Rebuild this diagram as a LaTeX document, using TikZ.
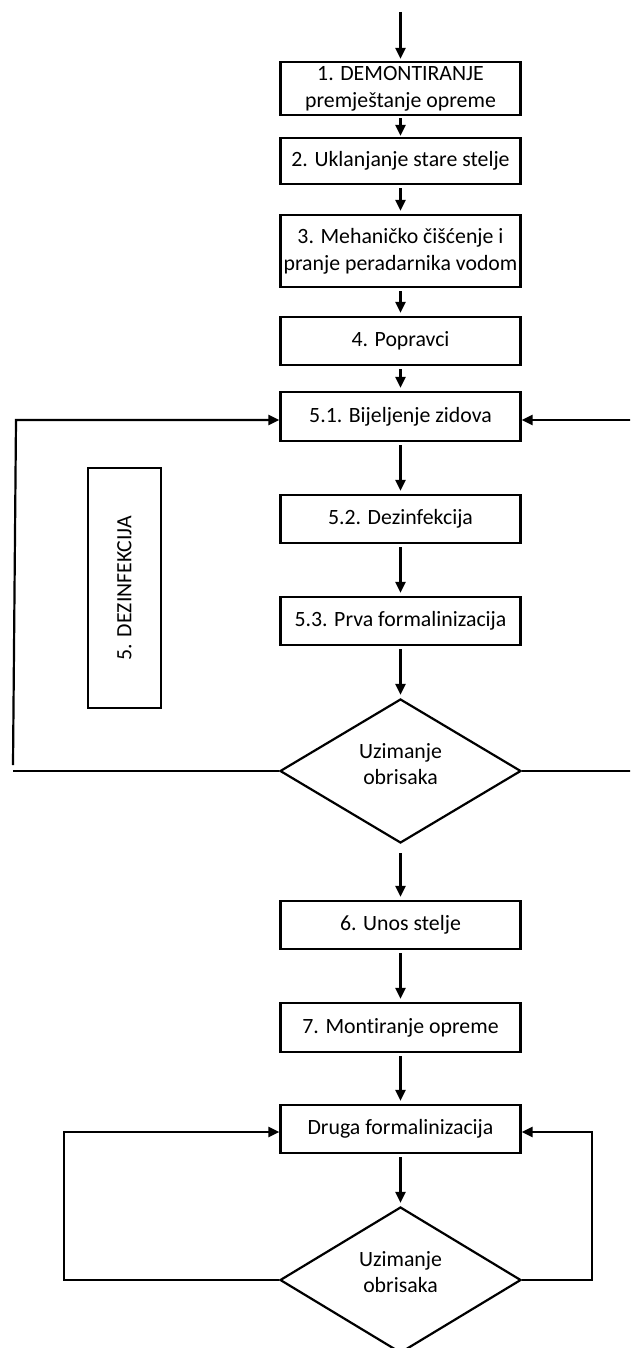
\documentclass[tikz,border=0pt]{standalone}
\usepackage{fontspec}
\setmainfont[Ligatures={NoCommon}]{Carlito}
\usetikzlibrary{shapes.geometric,arrows.meta}
\begin{document}
\begin{tikzpicture}[x=1pt,y=-1pt,
  every node/.style={font=\fontsize{21.8}{26.6}\selectfont, inner sep=0pt},
  box/.style={draw, line width=2.2pt, fill=white, align=center, minimum width=240pt},
  dia/.style={draw, line width=2.2pt, diamond, minimum width=241pt, minimum height=144pt},
  lbl/.style={align=center},
  arr/.style={line width=2.2pt, -{Triangle[length=11pt,width=10pt]}},
  ln/.style={line width=2.2pt},
  flow/.style={arr, shorten <=3pt, shorten >=3pt}
]
\useasboundingbox (0,0) rectangle (630,1348);
\clip (0,0) rectangle (630,1348);
% boxes
\node[box, minimum height=53pt] (b1) at (400.5,88.5) {1. DEMONTIRANJE\\premještanje opreme};
\node[box, minimum height=46pt] (b2) at (400.5,161) {2. Uklanjanje stare stelje};
\node[box, minimum height=72pt] (b3) at (400.5,251) {3. Mehaničko čišćenje i\\pranje peradarnika vodom};
\node[box, minimum height=48pt] (b4) at (400.5,341) {4. Popravci};
\node[box, minimum height=49pt] (b51) at (400.5,416.5) {5.1. Bijeljenje zidova};
\node[box, minimum height=48pt] (b52) at (400.5,519) {5.2. Dezinfekcija};
\node[box, minimum height=48pt] (b53) at (400.5,621) {5.3. Prva formalinizacija};
\node[dia] (d1) at (400.5,771) {};
\node[lbl] (d1t) at (400.5,764) {Uzimanje\\obrisaka};
\node[box, minimum height=48pt] (b6) at (400.5,925) {6. Unos stelje};
\node[box, minimum height=49pt] (b7) at (400.5,1027.5) {7. Montiranje opreme};
\node[box, minimum height=48pt] (bd) at (400.5,1129) {Druga formalinizacija};
\node[dia, minimum height=146pt] (d2) at (400.5,1280) {};
\node[lbl] (d2t) at (400.5,1272) {Uzimanje\\obrisaka};
\node[draw, line width=2.2pt, minimum width=73pt, minimum height=240pt] (dez) at (124.5,588) {};
\node[rotate=90] (dezt) at (dez.center) {5. DEZINFEKCIJA};
% main flow
\coordinate (top) at (400.5,12);
\draw[arr, shorten >=2pt] (top) -- (b1.north);
\draw[arr, shorten <=2pt, shorten >=1pt] (b1.south) -- (b2.north);
\draw[flow] (b2.south) -- (b3.north);
\draw[flow] (b3.south) -- (b4.north);
\draw[flow] (b4.south) -- (b51.north);
\draw[flow] (b51.south) -- (b52.north);
\draw[flow] (b52.south) -- (b53.north);
\draw[flow] (b53.south) -- (d1.north);
\draw[flow, shorten <=9pt] (d1.south) -- (b6.north);
\draw[flow] (b6.south) -- (b7.north);
\draw[flow] (b7.south) -- (bd.north);
\draw[flow] (bd.south) -- (d2.north);
% first loop
\coordinate (l1a) at (13,771);
\coordinate (l1b) at (13,765);
\coordinate (l1c) at (16,420);
\draw[ln] (d1.west) -- (l1a);
\draw[arr] (l1b) -- (l1c) -- ([yshift=-3.5pt]b51.west);
\coordinate (r1a) at (631,771);
\coordinate (r1b) at (631,420);
\draw[ln] (d1.east) -- (r1a);
\draw[arr] (r1b) -- ([yshift=-3.5pt]b51.east);
% second loop
\coordinate (l2a) at (64,1280);
\coordinate (l2b) at (64,1132);
\draw[arr] (d2.west) -- (l2a) -- (l2b) -- ([yshift=-3pt]bd.west);
\coordinate (r2a) at (592,1280);
\coordinate (r2b) at (592,1132);
\draw[arr] (d2.east) -- (r2a) -- (r2b) -- ([yshift=-3pt]bd.east);
\end{tikzpicture}
\end{document}
